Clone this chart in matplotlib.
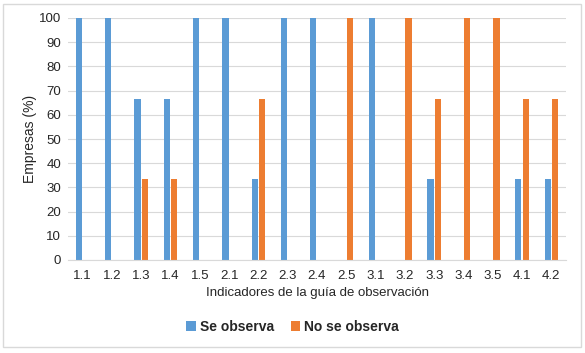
"""Se observa / No se observa por indicador de la guía de observación."""

import matplotlib

matplotlib.use("Agg")
import matplotlib.pyplot as plt
import numpy as np
from matplotlib.patches import Rectangle

plt.rcParams["font.family"] = ["Liberation Sans", "DejaVu Sans"]

indicadores = ["1.1", "1.2", "1.3", "1.4", "1.5", "2.1", "2.2", "2.3", "2.4",
               "2.5", "3.1", "3.2", "3.3", "3.4", "3.5", "4.1", "4.2"]
se_observa = [100, 100, 66.7, 66.7, 100, 100, 33.3, 100, 100,
              0, 100, 0, 33.3, 0, 0, 33.3, 33.3]
no_se_observa = [0, 0, 33.3, 33.3, 0, 0, 66.7, 0, 0,
                 100, 0, 100, 66.7, 100, 100, 66.7, 66.7]

BLUE = "#5B9BD5"
ORANGE = "#ED7D31"
TXT = "#262626"

fig = plt.figure(figsize=(5.85, 3.53), dpi=100)
ax = fig.add_axes([68 / 585, 1 - 260 / 353, (566 - 68) / 585, (260 - 18) / 353])

x = np.arange(len(indicadores))
w = 0.21
ax.bar(x - w / 2 - 0.02, se_observa, width=w, color=BLUE, label="Se observa", zorder=2)
ax.bar(x + w / 2 + 0.02, no_se_observa, width=w, color=ORANGE, label="No se observa", zorder=2)

ax.set_xlim(-0.5, len(indicadores) - 0.5)
ax.set_ylim(0, 100)
ax.set_yticks(range(0, 101, 10))
ax.set_xticks(x)
ax.set_xticklabels(indicadores)
ax.tick_params(axis="both", length=0, labelsize=9.5, colors=TXT)
ax.tick_params(axis="x", pad=7)
ax.tick_params(axis="y", pad=5)
ax.grid(axis="y", color="#d9d9d9", lw=0.8, zorder=0)
for s in ["top", "right", "left"]:
    ax.spines[s].set_visible(False)
ax.spines["bottom"].set_color("#d9d9d9")

ax.set_ylabel("Empresas (%)", fontsize=10, color=TXT, labelpad=1)
ax.set_xlabel("Indicadores de la guía de observación", fontsize=9.5, color=TXT, labelpad=4)

leg = fig.legend(loc="center", bbox_to_anchor=(0.5, 1 - 327 / 353), ncol=2, frameon=False,
                 handlelength=0.7, handleheight=0.7, handletextpad=0.3, columnspacing=1.2,
                 prop={"size": 10, "weight": "bold"})
for t in leg.get_texts():
    t.set_color(TXT)

fig.patches.append(Rectangle((3 / 585, 6 / 353), 578 / 585, 343 / 353, transform=fig.transFigure,
                             fill=False, edgecolor="#d9d9d9", lw=1))

fig.savefig("out.png", dpi=100)
